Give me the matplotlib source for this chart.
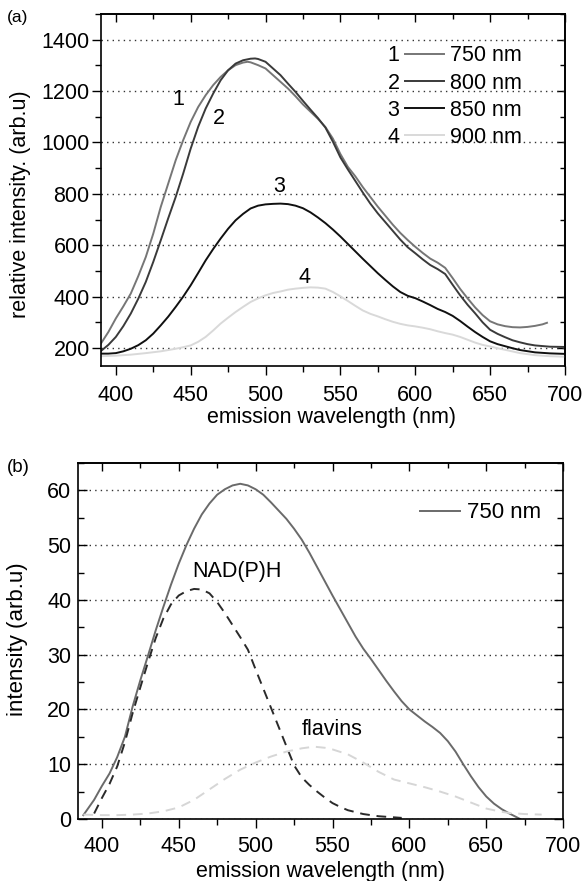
import matplotlib
matplotlib.use("Agg")
import matplotlib.pyplot as plt
from matplotlib.ticker import MultipleLocator

plt.rcParams['font.family'] = ['Liberation Sans', 'DejaVu Sans']

# ---------------- data: panel (a) ----------------
wl1 = [390, 395, 400, 405, 410, 415, 420, 425, 430, 435, 440, 445, 450, 455, 460, 465, 470, 475, 480, 485, 488, 490, 495, 500, 505, 510, 515, 520, 525, 530, 535, 540, 545, 550, 555, 560, 565, 570, 575, 580, 585, 590, 595, 600, 605, 610, 615, 620, 625, 630, 635, 640, 645, 650, 655, 660, 665, 670, 675, 680, 685, 688]
i1 = [217, 262, 315, 362, 412, 480, 554, 645, 749, 840, 931, 1009, 1080, 1138, 1184, 1223, 1255, 1281, 1301, 1311, 1314, 1312, 1301, 1288, 1262, 1236, 1210, 1180, 1148, 1120, 1092, 1060, 1015, 955, 905, 868, 826, 788, 750, 715, 680, 648, 620, 594, 570, 548, 532, 512, 472, 430, 393, 358, 328, 304, 292, 285, 281, 280, 282, 286, 292, 298]

wl2 = [390, 395, 400, 405, 410, 415, 420, 425, 430, 435, 440, 445, 450, 455, 460, 465, 470, 475, 480, 485, 490, 493, 495, 500, 505, 510, 515, 520, 525, 530, 535, 540, 545, 550, 555, 560, 565, 570, 575, 580, 585, 590, 595, 600, 605, 610, 615, 620, 625, 630, 635, 640, 645, 650, 655, 660, 665, 670, 675, 680, 690, 700]
i2 = [188, 212, 243, 285, 334, 392, 457, 535, 619, 705, 788, 879, 976, 1061, 1132, 1190, 1242, 1281, 1307, 1320, 1326, 1327, 1325, 1314, 1288, 1262, 1229, 1197, 1162, 1128, 1095, 1058, 1003, 942, 895, 850, 805, 762, 724, 690, 656, 622, 592, 569, 545, 523, 507, 488, 446, 405, 368, 335, 300, 271, 255, 242, 230, 222, 215, 210, 205, 204]

wl3 = [390, 395, 400, 405, 410, 415, 420, 425, 430, 435, 440, 445, 450, 455, 460, 465, 470, 475, 480, 485, 490, 495, 500, 505, 510, 515, 520, 525, 530, 535, 540, 545, 550, 555, 560, 565, 570, 575, 580, 585, 590, 595, 600, 605, 610, 615, 620, 625, 630, 635, 640, 645, 650, 655, 660, 665, 670, 680, 690, 700]
i3 = [178, 178, 180, 187, 197, 211, 230, 256, 288, 322, 360, 400, 444, 492, 541, 585, 626, 664, 697, 722, 743, 754, 759, 761, 762, 760, 754, 744, 728, 708, 686, 661, 634, 605, 576, 547, 519, 491, 465, 440, 418, 403, 394, 381, 367, 352, 340, 325, 305, 283, 262, 243, 226, 215, 207, 199, 192, 183, 179, 177]

wl4 = [390, 400, 410, 420, 430, 440, 445, 450, 455, 460, 465, 470, 475, 480, 485, 490, 495, 500, 505, 510, 515, 520, 525, 530, 535, 540, 545, 550, 555, 560, 565, 570, 575, 580, 585, 590, 595, 600, 605, 610, 615, 620, 625, 630, 635, 640, 645, 650, 655, 660, 670, 680, 690, 700]
i4 = [168, 170, 174, 180, 187, 197, 203, 210, 224, 243, 268, 295, 318, 340, 360, 379, 393, 405, 414, 420, 427, 431, 434, 436, 435, 431, 418, 401, 383, 364, 346, 333, 323, 312, 302, 294, 288, 284, 279, 273, 265, 258, 252, 243, 232, 221, 212, 206, 199, 193, 180, 172, 168, 166]

labels_a = ["750 nm", "800 nm", "850 nm", "900 nm"]
numbers_a = ["1", "2", "3", "4"]
colors_a = ["#767676", "#3a3a3a", "#101010", "#d9d9d9"]
num_x = [442, 469, 509, 526]
num_y = [1166, 1093, 828, 476]

# ---------------- data: panel (b) ----------------
wlb = [388, 395, 400, 405, 410, 415, 420, 425, 430, 435, 440, 445, 450, 455, 460, 465, 470, 475, 480, 485, 490, 495, 500, 505, 510, 515, 520, 525, 530, 535, 540, 545, 550, 555, 560, 565, 570, 575, 580, 585, 590, 595, 600, 605, 610, 615, 620, 625, 630, 635, 640, 645, 650, 655, 660, 665, 672]
ib = [0.7, 3.5, 6.0, 8.3, 11.3, 15.0, 20.5, 25.3, 29.8, 34.4, 38.7, 42.8, 46.6, 50.0, 53.0, 55.6, 57.6, 59.2, 60.2, 60.9, 61.2, 60.9, 60.2, 59.2, 57.8, 56.3, 54.8, 53.0, 51.0, 48.6, 46.0, 43.4, 40.8, 38.3, 35.8, 33.3, 31.1, 29.2, 27.2, 25.2, 23.3, 21.5, 20.0, 18.9, 17.8, 16.8, 15.7, 14.2, 12.3, 10.0, 7.8, 5.8, 4.1, 2.8, 1.8, 1.0, 0.0]

wln = [395, 400, 405, 410, 415, 420, 425, 430, 435, 440, 445, 450, 455, 460, 465, 470, 475, 480, 485, 490, 495, 500, 505, 510, 515, 520, 525, 530, 535, 540, 545, 550, 555, 560, 570, 580, 595]
inad = [1.0, 3.8, 6.4, 9.6, 14.0, 19.3, 24.0, 28.6, 33.0, 36.6, 39.2, 40.8, 41.6, 42.0, 41.9, 41.2, 39.6, 37.6, 35.4, 33.2, 30.9, 27.3, 23.8, 20.3, 16.8, 13.3, 9.8, 7.6, 6.2, 5.0, 3.9, 2.9, 2.2, 1.6, 0.9, 0.5, 0.2]

wlf = [388, 400, 410, 420, 430, 440, 450, 460, 470, 480, 490, 500, 510, 520, 530, 538, 545, 550, 560, 570, 580, 590, 600, 610, 620, 630, 640, 650, 660, 665, 675, 686]
ifl = [0.8, 0.7, 0.7, 0.8, 1.0, 1.4, 2.1, 3.5, 5.4, 7.3, 9.0, 10.3, 11.4, 12.3, 12.9, 13.2, 13.0, 12.7, 11.8, 10.3, 8.6, 7.2, 6.5, 5.8, 5.0, 4.1, 3.0, 1.9, 1.3, 1.1, 0.9, 0.8]

FS = 15.5
fig = plt.figure(figsize=(5.83, 8.81), dpi=100)


def spines(ax):
    for s in ax.spines.values():
        s.set_linewidth(1.2)


def mirror(ax, xmaj, xmin, ymaj, ymin, top=True, right=True):
    # inward mirrored ticks on top / right without labels
    if top:
        sx = ax.secondary_xaxis('top')
        sx.set_xticks(xmaj)
        sx.xaxis.set_minor_locator(MultipleLocator(xmin))
        sx.tick_params(axis='x', which='both', direction='in', labeltop=False, labelbottom=False, width=1.0)
        sx.tick_params(which='major', length=6)
        sx.tick_params(which='minor', length=3.5)
        sx.spines['top'].set_linewidth(1.2)
    if right:
        sy = ax.secondary_yaxis('right')
        sy.set_yticks(ymaj)
        sy.yaxis.set_minor_locator(MultipleLocator(ymin))
        sy.tick_params(axis='y', which='both', direction='in', labelright=False, labelleft=False, width=1.0)
        sy.tick_params(which='major', length=6)
        sy.tick_params(which='minor', length=3.5)
        sy.spines['right'].set_linewidth(1.2)


# ---------- panel (a) ----------
axa = fig.add_axes([0.1730, 0.5846, 0.7960, 0.3995])
handles = []
for x, y, c, lab in zip([wl1, wl2, wl3, wl4], [i1, i2, i3, i4], colors_a, labels_a):
    h, = axa.plot(x, y, color=c, lw=1.4, label=lab)
    handles.append(h)
for t, xx, yy in zip(numbers_a, num_x, num_y):
    axa.text(xx, yy, t, fontsize=FS, ha='center', va='center')
axa.set_xlim(390, 700)
axa.set_ylim(130, 1500)
xt_a = [400, 450, 500, 550, 600, 650, 700]
yt_a = [200, 400, 600, 800, 1000, 1200, 1400]
axa.set_xticks(xt_a)
axa.xaxis.set_minor_locator(MultipleLocator(25))
axa.set_yticks(yt_a)
axa.yaxis.set_minor_locator(MultipleLocator(100))
axa.grid(axis='y', which='major', linestyle=(0, (1, 3)), color='#333333', lw=1.0)
axa.tick_params(which='both', direction='out', top=False, right=False, labelsize=FS, width=1.0)
axa.tick_params(which='major', length=6.5)
axa.tick_params(which='minor', length=4)
axa.tick_params(axis='x', which='major', pad=7.5)
axa.tick_params(axis='y', which='major', pad=1.5)
spines(axa)
mirror(axa, xt_a, 25, yt_a, 100)
axa.set_xlabel("emission wavelength (nm)", fontsize=FS)
axa.xaxis.set_label_coords(0.498, -0.118)
axa.set_ylabel("relative intensity. (arb.u)", fontsize=FS)
axa.yaxis.set_label_coords(-0.150, 0.46)
leg = axa.legend(handles=handles, loc='upper left', bbox_to_anchor=(0.637, 0.935),
                 frameon=False, fontsize=FS, handlelength=1.8, handletextpad=0.3,
                 labelspacing=0.28, borderaxespad=0)
fig.canvas.draw()
renderer = fig.canvas.get_renderer()
inv = axa.transAxes.inverted()
for line, txt, num in zip(leg.get_lines(), leg.get_texts(), numbers_a):
    bl = line.get_window_extent(renderer)
    bt = txt.get_window_extent(renderer)
    x0, _ = inv.transform((bl.x0, bl.y0))
    _, yb = inv.transform((bt.x0, bt.y0))
    axa.text(x0 - 0.012, yb, num, transform=axa.transAxes, fontsize=FS, ha='right', va='bottom')
fig.text(0.011, 0.980, "(a)", fontsize=12.5, ha='left', va='center')

# ---------- panel (b) ----------
axb = fig.add_axes([0.1343, 0.0704, 0.8317, 0.4041])
hb, = axb.plot(wlb, ib, color='#6a6a6a', lw=1.4, label="750 nm")
axb.plot(wln, inad, color='#2a2a2a', lw=1.4, ls=(0, (5, 3.5)))
axb.plot(wlf, ifl, color='#d6d6d6', lw=1.4, ls=(0, (5, 3.5)))
axb.text(488, 45.2, "NAD(P)H", fontsize=FS, ha='center', va='center')
axb.text(550, 16.3, "flavins", fontsize=FS, ha='center', va='center')
axb.set_xlim(384.7, 700)
axb.set_ylim(0, 65)
xt_b = [400, 450, 500, 550, 600, 650, 700]
yt_b = [0, 10, 20, 30, 40, 50, 60]
axb.set_xticks(xt_b)
axb.xaxis.set_minor_locator(MultipleLocator(25))
axb.set_yticks(yt_b)
axb.yaxis.set_minor_locator(MultipleLocator(5))
axb.grid(axis='y', which='major', linestyle=(0, (1, 3)), color='#333333', lw=1.0)
axb.tick_params(which='both', top=False, right=True, labelsize=FS, width=1.0)
axb.tick_params(axis='x', which='both', direction='out')
axb.tick_params(axis='y', which='both', direction='in')
axb.tick_params(which='major', length=6.5)
axb.tick_params(which='minor', length=4)
axb.tick_params(axis='x', which='major', pad=6)
axb.tick_params(axis='y', which='major', pad=5)
spines(axb)
mirror(axb, xt_b, 25, yt_b, 5, top=True, right=False)
axb.set_xlabel("emission wavelength (nm)", fontsize=FS)
axb.xaxis.set_label_coords(0.50, -0.118)
axb.set_ylabel("intensity (arb.u)", fontsize=16)
axb.yaxis.set_label_coords(-0.104, 0.504)
axb.legend(handles=[hb], loc='center right', bbox_to_anchor=(0.972, 0.860), frameon=False,
           fontsize=16, handlelength=1.8, handletextpad=0.3, borderaxespad=0)
fig.text(0.011, 0.469, "(b)", fontsize=13.5, ha='left', va='center')

fig.savefig("out.png", dpi=100)
